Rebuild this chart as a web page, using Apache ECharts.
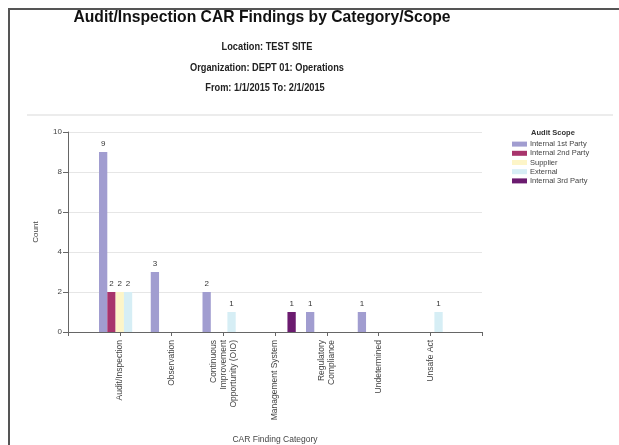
<!DOCTYPE html>
<html>
<head>
<meta charset="utf-8">
<script src="https://cdn.jsdelivr.net/npm/echarts@6/dist/echarts.min.js"></script>
<style>
html,body{margin:0;padding:0;background:#fff;}
#chart{width:619px;height:445px;}
</style>
</head>
<body>
<div id="chart"></div>
<script>
// ---- data ----
const categories = ['Audit/Inspection', 'Observation', 'Continuous Improvement Opportunity (OIO)', 'Management System', 'Regulatory Compliance', 'Undetermined', 'Unsafe Act'];
const seriesNames = ['Internal 1st Party', 'Internal 2nd Party', 'Supplier', 'External', 'Internal 3rd Party'];
const internal1st = [9, 3, 2, 0, 1, 1, 0];
const internal2nd = [2, 0, 0, 0, 0, 0, 0];
const supplier    = [2, 0, 0, 0, 0, 0, 0];
const external    = [2, 0, 1, 0, 0, 0, 1];
const internal3rd = [0, 0, 0, 1, 0, 0, 0];
const yTicks = [0, 2, 4, 6, 8, 10];

const titleText = 'Audit/Inspection CAR Findings by Category/Scope';
const subTitles = ['Location: TEST SITE', 'Organization: DEPT 01: Operations', 'From: 1/1/2015 To: 2/1/2015'];

// ---- styling ----
const colors = ['#a19dd0', '#a8346c', '#fdf5c8', '#d6eef5', '#6b1b6f'];
const wrapMap = {
  'Continuous Improvement Opportunity (OIO)': 'Continuous\nImprovement\nOpportunity (OIO)',
  'Regulatory Compliance': 'Regulatory\nCompliance'
};
const FONT = 'Liberation Sans, Arial, sans-serif';

// padded category axis (empty slot at each end, as in the reference)
const axisCats = [''].concat(categories, ['']);
const pad = arr => [null].concat(arr.map(v => v), [null]);
const allSeries = [internal1st, internal2nd, supplier, external, internal3rd];

const chart = echarts.init(document.getElementById('chart'), null, {renderer: 'canvas'});

const option = {
  backgroundColor: '#fff',
  animation: false,
  color: colors,
  textStyle: {fontFamily: FONT},
  graphic: [
    {type: 'line', shape: {x1: 8, y1: 9, x2: 619, y2: 9}, style: {stroke: '#555', lineWidth: 2}},
    {type: 'line', shape: {x1: 9, y1: 8, x2: 9, y2: 445}, style: {stroke: '#555', lineWidth: 2}},
    {type: 'line', shape: {x1: 27, y1: 115, x2: 613, y2: 115}, style: {stroke: '#ececec', lineWidth: 2}},
    {type: 'text', x: 262, y: 17, scaleX: 0.95, style: {text: titleText, fontFamily: FONT, fontWeight: 'bold', fontSize: 16.5, fill: '#111', align: 'center', verticalAlign: 'middle'}},
    {type: 'text', x: 267, y: 47, scaleX: 0.84, style: {text: subTitles[0], fontFamily: FONT, fontWeight: 'bold', fontSize: 11, fill: '#222', align: 'center', verticalAlign: 'middle'}},
    {type: 'text', x: 267, y: 68, scaleX: 0.84, style: {text: subTitles[1], fontFamily: FONT, fontWeight: 'bold', fontSize: 11, fill: '#222', align: 'center', verticalAlign: 'middle'}},
    {type: 'text', x: 265, y: 88, scaleX: 0.84, style: {text: subTitles[2], fontFamily: FONT, fontWeight: 'bold', fontSize: 11, fill: '#222', align: 'center', verticalAlign: 'middle'}},
    {type: 'text', x: 553, y: 133, style: {text: 'Audit Scope', fontFamily: FONT, fontWeight: 'bold', fontSize: 7.5, fill: '#333', align: 'center', verticalAlign: 'middle'}}
  ],
  legend: {
    orient: 'vertical',
    left: 512,
    top: 139.5,
    icon: 'rect',
    itemWidth: 15,
    itemHeight: 5,
    itemGap: 0,
    padding: 0,
    data: seriesNames,
    textStyle: {fontSize: 7.5, color: '#444', lineHeight: 9.2, fontFamily: FONT, padding: [0, 0, 0, -2]}
  },
  grid: {left: 68, right: 137, top: 132, bottom: 112, containLabel: false},
  xAxis: {
    type: 'category',
    data: axisCats,
    boundaryGap: false,
    name: 'CAR Finding Category',
    nameLocation: 'middle',
    nameGap: 103,
    nameTextStyle: {fontSize: 8.5, color: '#444'},
    axisLine: {show: true, lineStyle: {color: '#666', width: 1}},
    axisTick: {show: true, interval: 0, length: 4, lineStyle: {color: '#666'}},
    axisLabel: {
      interval: 0,
      rotate: 90,
      fontSize: 8.5,
      lineHeight: 10,
      color: '#444',
      margin: 8,
      formatter: v => wrapMap[v] || v
    },
    splitLine: {show: false}
  },
  yAxis: {
    type: 'value',
    min: yTicks[0],
    max: yTicks[yTicks.length - 1],
    interval: yTicks[1] - yTicks[0],
    name: 'Count',
    nameLocation: 'middle',
    nameRotate: 90,
    nameGap: 28,
    nameTextStyle: {fontSize: 8, color: '#444'},
    axisLine: {show: true, lineStyle: {color: '#666', width: 1}},
    axisTick: {show: true, length: 5, lineStyle: {color: '#666'}},
    axisLabel: {fontSize: 8, color: '#444', margin: 6},
    splitLine: {show: true, lineStyle: {color: '#e6e6e6', width: 1}}
  },
  series: seriesNames.map((name, i) => ({
    name: name,
    type: 'bar',
    data: pad(allSeries[i]),
    barWidth: 8.3,
    barGap: '0%',
    label: {
      show: true,
      position: 'top',
      distance: 4,
      fontSize: 8,
      color: '#333',
      formatter: p => (p.value ? String(p.value) : '')
    }
  }))
};
chart.setOption(option);
</script>
</body>
</html>
